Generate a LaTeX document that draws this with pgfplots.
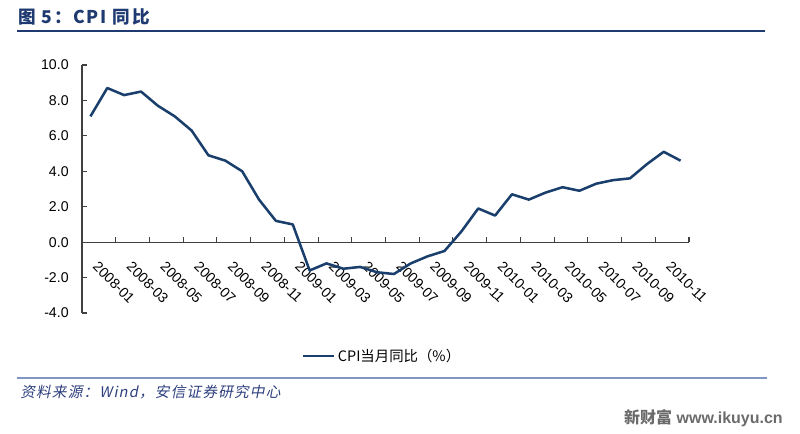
\documentclass[border=0pt]{standalone}
\usepackage{pgfplots}
\pgfplotsset{compat=1.18}
\usepackage{fontspec}
\setmainfont{Liberation Sans}
\newfontfamily\cjk{Noto Sans CJK SC}
\newfontfamily\cjktitle{Noto Sans CJK SC}[LetterSpace=10]
\newfontfamily\cjkslant{Noto Sans CJK SC}[FakeSlant=0.2,LetterSpace=8]
\definecolor{lineblue}{HTML}{1A3F6C}
\definecolor{titleblue}{HTML}{1F3A70}
\definecolor{srcblue}{HTML}{2E3F7E}
\definecolor{rule2}{HTML}{8095C2}
\definecolor{axisgray}{HTML}{404040}
\begin{document}
\begin{tikzpicture}
\path[use as bounding box] (0,0) rectangle (600pt,325.5pt);
\begin{scope}[x=0.75pt,y=-0.75pt,shift={(0pt,325.5pt)}]
\node[anchor=west,inner sep=0pt,text=titleblue,font=\cjktitle\bfseries\fontsize{13.2}{15}\selectfont] at (18,17) {图 5：CPI 同比};
\draw[titleblue,line width=1pt] (17,31) -- (765,31);
\draw[rule2,line width=1.6pt] (17,378) -- (767,378);
\node[anchor=west,inner sep=0pt,text=srcblue,font=\cjkslant\fontsize{11}{12}\selectfont] at (20,392) {资料来源：Wind，安信证券研究中心};
\node[anchor=east,inner sep=0pt,text=black!58,font=\bfseries\fontsize{12}{14}\selectfont] at (783,418) {{\cjk\bfseries 新财富} www.ikuyu.cn};
\end{scope}
\begin{axis}[
  at={(61.5pt,90.75pt)}, anchor=south west,
  width=455.25pt, height=186pt, scale only axis,
  xmin=-0.5, xmax=35.5, ymin=-4, ymax=10,
  axis x line=middle, axis y line=left,
  hide obscured x ticks=false, hide obscured y ticks=false,
  axis line style={-, draw=axisgray, line width=0.9pt},
  xtick={-0.5,1.5,...,35.5},
  xticklabels={},
  extra x ticks={0,2,...,34},
  extra x tick labels={2008-01,2008-03,2008-05,2008-07,2008-09,2008-11,2009-01,2009-03,2009-05,2009-07,2009-09,2009-11,2010-01,2010-03,2010-05,2010-07,2010-09,2010-11},
  extra x tick style={major tick length=0pt},
  xticklabel style={font=\fontsize{10.6}{12}\selectfont, inner sep=0pt, xshift=6.5pt, yshift=-13.5pt, rotate=-45, anchor=north west},
  ytick={-4,-2,...,10},
  yticklabel style={font=\fontsize{10.6}{12}\selectfont, xshift=-6.5pt},
  /pgf/number format/.cd, fixed, fixed zerofill, precision=1, assume math mode=true,
  /pgfplots/.cd,
  tick align=inside,
  major tick length=3.5pt,
  tick style={axisgray, line width=0.8pt},
  legend style={at={(0.495,-0.173)}, anchor=center, draw=none, fill=none,
    font=\cjk\fontsize{10.8}{12}\selectfont},
  legend image code/.code={\draw[#1] (0pt,0pt) -- (23pt,0pt);},
  clip=false,
]
\addplot[lineblue, line width=1.9pt, line join=round] coordinates {
(0,7.1) (1,8.7) (2,8.3) (3,8.5) (4,7.7) (5,7.1) (6,6.3) (7,4.9) (8,4.6) (9,4.0) (10,2.4) (11,1.2)
(12,1.0) (13,-1.6) (14,-1.2) (15,-1.5) (16,-1.4) (17,-1.7) (18,-1.8) (19,-1.2) (20,-0.8) (21,-0.5) (22,0.6) (23,1.9)
(24,1.5) (25,2.7) (26,2.4) (27,2.8) (28,3.1) (29,2.9) (30,3.3) (31,3.5) (32,3.6) (33,4.4) (34,5.1) (35,4.6)
};
\addlegendentry{CPI当月同比（\%）}
\end{axis}
\end{tikzpicture}
\end{document}
